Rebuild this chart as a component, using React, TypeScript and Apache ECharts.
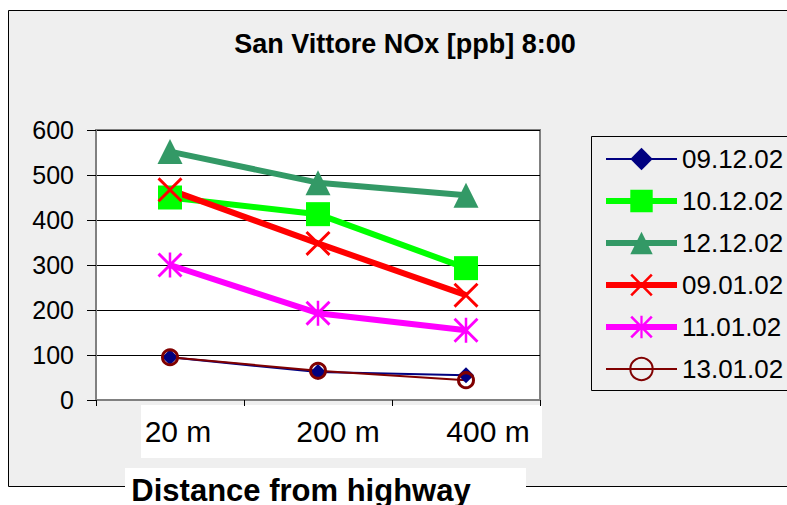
import React, { useEffect, useRef } from "react";
import * as echarts from "echarts";

const categories = ["20 m", "200 m", "400 m"];
const seriesNames = ["09.12.02", "10.12.02", "12.12.02", "09.01.02", "11.01.02", "13.01.02"];
const values0912 = [95, 62, 55];
const values1012 = [450, 413, 293];
const values1212 = [552, 483, 455];
const values0901 = [467, 348, 233];
const values1101 = [300, 193, 155];
const values1301 = [95, 65, 44];
const yMin = 0;
const yMax = 600;
const yStep = 100;
const titleText = "San Vittore NOx [ppb] 8:00";
const xAxisName = "Distance from highway";

const FONT = "'Liberation Sans', Arial, sans-serif";

const X_PATH =
  "path://M0,1.3 L1.3,0 L8,6.7 L14.7,0 L16,1.3 L9.3,8 L16,14.7 L14.7,16 L8,9.3 L1.3,16 L0,14.7 L6.7,8 Z";
const STAR_PATH = X_PATH + " M7.2,0 L8.8,0 L8.8,16 L7.2,16 Z";

export default function App() {
  const ref = useRef<HTMLDivElement>(null);
  useEffect(() => {
    if (!ref.current) return;
    const chart = echarts.init(ref.current, null, { renderer: "svg" });
    const labelShift = [16, 40, 44];
    const rich: any = {};
    labelShift.forEach((p, i) => {
      rich["p" + i] = { padding: [0, 0, 0, p], fontSize: 30, fontFamily: FONT, color: "#000" };
    });
    const styles = [
      { color: "#000080", width: 2, symbol: "diamond", size: 16 },
      { color: "#00ff00", width: 6, symbol: "rect", size: 24 },
      { color: "#339966", width: 6, symbol: "triangle", size: 25 },
      { color: "#ff0000", width: 6, symbol: X_PATH, size: 25 },
      { color: "#ff00ff", width: 6, symbol: STAR_PATH, size: 25 },
      { color: "#800000", width: 2, symbol: "circle", size: 15 },
    ];
    const dataSets = [values0912, values1012, values1212, values0901, values1101, values1301];
    const series = seriesNames.map((name, i) => {
      const s = styles[i];
      const itemStyle: any =
        i === 5
          ? { color: "rgba(0,0,0,0)", borderColor: s.color, borderWidth: 3 }
          : { color: s.color };
      return {
        name,
        type: "line",
        data: dataSets[i],
        symbol: s.symbol,
        symbolSize: s.size,
        lineStyle: { color: s.color, width: s.width },
        itemStyle,
        emphasis: { disabled: true },
      };
    });
    chart.setOption({
      animation: false,
      backgroundColor: "#ffffff",
      title: {
        text: titleText,
        left: 400,
        top: 25,
        textAlign: "center",
        textStyle: { fontFamily: FONT, fontSize: 27, fontWeight: "bold", color: "#000" },
      },
      graphic: [
        {
          type: "rect",
          z: -10,
          shape: { x: 8.5, y: 10.5, width: 800, height: 476 },
          style: { fill: "#efefef", stroke: "#000", lineWidth: 1 },
        },
        {
          type: "rect",
          z: -5,
          shape: { x: 141, y: 405, width: 401, height: 53 },
          style: { fill: "#ffffff" },
        },
        {
          type: "rect",
          z: -5,
          shape: { x: 125, y: 468, width: 401, height: 40 },
          style: { fill: "#ffffff" },
        },
        {
          type: "rect",
          z: -5,
          shape: { x: 591.5, y: 136.5, width: 220, height: 254 },
          style: { fill: "none", stroke: "#000", lineWidth: 1 },
        },
      ],
      legend: {
        orient: "vertical",
        left: 598,
        top: 141,
        itemWidth: 71,
        itemHeight: 28,
        itemGap: 16,
        textStyle: { fontFamily: FONT, fontSize: 26, color: "#000" },
        data: seriesNames.map((name, i) => ({
          name,
          lineStyle: { width: styles[i].width, color: styles[i].color },
        })),
      },
      grid: {
        left: 96,
        top: 130,
        width: 444,
        height: 270,
        containLabel: false,
        outerBoundsMode: "none",
        show: true,
        backgroundColor: "#ffffff",
        borderColor: "#808080",
        borderWidth: 2,
      },
      xAxis: {
        type: "category",
        data: categories,
        boundaryGap: true,
        name: xAxisName,
        nameLocation: "middle",
        nameGap: 75,
        nameTextStyle: {
          fontFamily: FONT,
          fontSize: 31,
          fontWeight: "bold",
          color: "#000",
          padding: [0, 34, 0, 0],
        },
        axisLine: { lineStyle: { color: "#808080", width: 2 } },
        axisTick: { show: true, length: 6, lineStyle: { color: "#000" } },
        axisLabel: {
          interval: 0,
          hideOverlap: false,
          margin: 16,
          fontFamily: FONT,
          fontSize: 30,
          color: "#000",
          formatter: (v: string, i: number) => `{p${i}|${v}}`,
          rich,
        },
      },
      yAxis: {
        type: "value",
        min: yMin,
        max: yMax,
        interval: yStep,
        axisLine: { show: true, lineStyle: { color: "#808080", width: 2 } },
        axisTick: { show: true, length: 9, lineStyle: { color: "#000" } },
        splitLine: { lineStyle: { color: "#000", width: 1 } },
        axisLabel: { margin: 22, fontFamily: FONT, fontSize: 25, color: "#000" },
      },
      series,
    });
    return () => chart.dispose();
  }, []);
  return (
    <div
      ref={ref}
      style={{ position: "absolute", left: 0, top: 0, width: 787, height: 505 }}
    />
  );
}
